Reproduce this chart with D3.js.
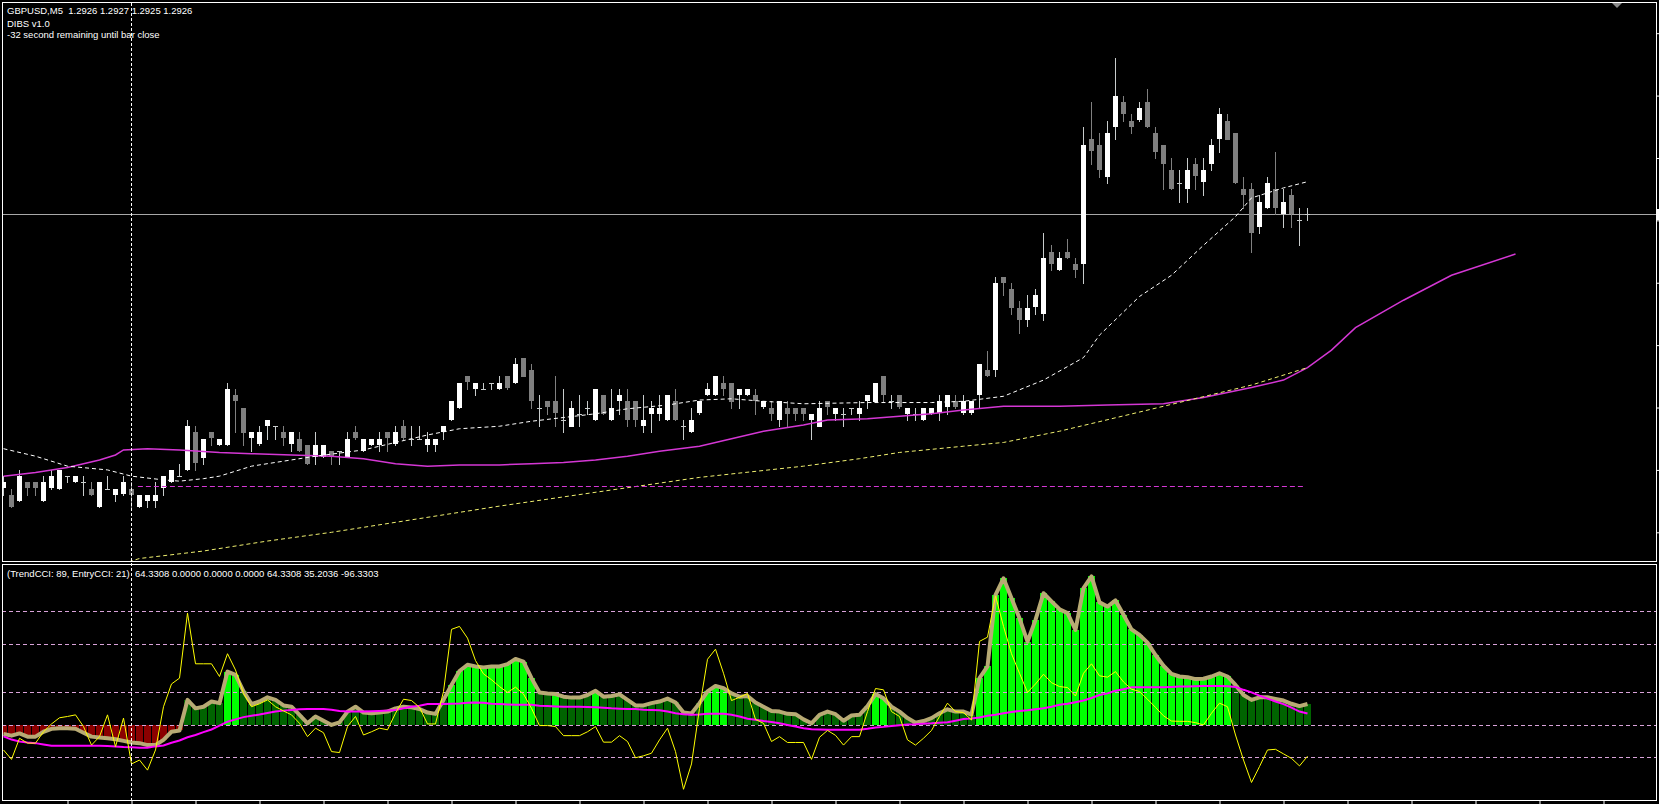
<!DOCTYPE html>
<html><head><meta charset="utf-8">
<script src="https://cdn.jsdelivr.net/npm/d3@7"></script>
<style>
html,body{margin:0;padding:0;background:#000;overflow:hidden;}
svg{display:block;}
text{font-family:"Liberation Sans",Arial,sans-serif;font-size:9.5px;fill:#fff;white-space:pre;}
</style></head><body>
<svg id="c" width="1659" height="804"></svg>
<script>
// ---------------- DATA ----------------
const headerLines = ["GBPUSD,M5  1.2926 1.2927 1.2925 1.2926", "DIBS v1.0", "-32 second remaining until bar close"];
const indicatorLabel = "(TrendCCI: 89, EntryCCI: 21)  64.3308 0.0000 0.0000 0.0000 64.3308 35.2036 -96.3303";

const barOpen = [1.29040,1.29035,1.29030,1.29045,1.29045,1.29030,1.29040,1.29040,1.29050,1.29045,1.29045,1.29040,1.29025,1.29040,1.29035,1.29035,1.29040,1.29025,1.29030,1.29030,1.29040,1.29045,1.29050,1.29055,1.29085,1.29065,1.29085,1.29075,1.29075,1.29115,1.29105,1.29080,1.29075,1.29090,1.29090,1.29085,1.29075,1.29080,1.29075,1.29065,1.29065,1.29070,1.29070,1.29065,1.29085,1.29070,1.29075,1.29075,1.29085,1.29075,1.29090,1.29080,1.29080,1.29075,1.29075,1.29085,1.29095,1.29105,1.29130,1.29120,1.29120,1.29125,1.29120,1.29130,1.29125,1.29145,1.29135,1.29105,1.29110,1.29110,1.29095,1.29090,1.29100,1.29105,1.29095,1.29115,1.29095,1.29110,1.29110,1.29110,1.29090,1.29100,1.29100,1.29095,1.29110,1.29090,1.29085,1.29100,1.29115,1.29115,1.29125,1.29125,1.29115,1.29115,1.29115,1.29105,1.29105,1.29095,1.29105,1.29105,1.29105,1.29095,1.29090,1.29110,1.29100,1.29100,1.29105,1.29100,1.29110,1.29110,1.29130,1.29110,1.29115,1.29100,1.29100,1.29095,1.29100,1.29100,1.29105,1.29110,1.29100,1.29100,1.29115,1.29135,1.29135,1.29210,1.29200,1.29185,1.29175,1.29185,1.29180,1.29230,1.29215,1.29230,1.29220,1.29220,1.29320,1.29315,1.29290,1.29330,1.29350,1.29335,1.29335,1.29350,1.29325,1.29315,1.29295,1.29285,1.29280,1.29300,1.29285,1.29300,1.29320,1.29335,1.29325,1.29280,1.29280,1.29250,1.29265,1.29280,1.29260,1.29275,1.29255,1.29260];
const barHigh = [1.29050,1.29040,1.29055,1.29045,1.29045,1.29050,1.29055,1.29055,1.29050,1.29050,1.29050,1.29045,1.29045,1.29050,1.29040,1.29050,1.29045,1.29035,1.29035,1.29045,1.29050,1.29055,1.29060,1.29095,1.29090,1.29080,1.29085,1.29080,1.29125,1.29120,1.29105,1.29085,1.29090,1.29095,1.29090,1.29090,1.29085,1.29085,1.29075,1.29085,1.29075,1.29070,1.29070,1.29085,1.29090,1.29080,1.29080,1.29085,1.29085,1.29090,1.29095,1.29090,1.29090,1.29085,1.29080,1.29090,1.29110,1.29125,1.29130,1.29125,1.29125,1.29125,1.29130,1.29130,1.29145,1.29145,1.29140,1.29115,1.29110,1.29130,1.29120,1.29110,1.29115,1.29110,1.29120,1.29115,1.29120,1.29120,1.29120,1.29110,1.29115,1.29110,1.29115,1.29115,1.29120,1.29095,1.29105,1.29110,1.29125,1.29130,1.29130,1.29125,1.29120,1.29120,1.29120,1.29110,1.29110,1.29110,1.29110,1.29105,1.29105,1.29100,1.29110,1.29110,1.29105,1.29105,1.29105,1.29110,1.29115,1.29125,1.29130,1.29115,1.29115,1.29105,1.29105,1.29105,1.29105,1.29115,1.29115,1.29115,1.29115,1.29110,1.29140,1.29150,1.29210,1.29210,1.29205,1.29190,1.29195,1.29200,1.29245,1.29235,1.29230,1.29240,1.29225,1.29330,1.29350,1.29325,1.29335,1.29385,1.29355,1.29340,1.29350,1.29360,1.29330,1.29315,1.29305,1.29295,1.29305,1.29305,1.29305,1.29320,1.29345,1.29340,1.29325,1.29290,1.29285,1.29275,1.29290,1.29310,1.29280,1.29280,1.29265,1.29265];
const barLow = [1.29035,1.29025,1.29030,1.29035,1.29035,1.29030,1.29040,1.29040,1.29045,1.29045,1.29035,1.29035,1.29025,1.29040,1.29030,1.29035,1.29025,1.29025,1.29025,1.29025,1.29035,1.29045,1.29050,1.29055,1.29055,1.29060,1.29075,1.29075,1.29075,1.29085,1.29075,1.29070,1.29075,1.29080,1.29080,1.29075,1.29070,1.29070,1.29060,1.29060,1.29065,1.29060,1.29060,1.29065,1.29080,1.29070,1.29075,1.29070,1.29070,1.29075,1.29080,1.29075,1.29080,1.29070,1.29070,1.29080,1.29095,1.29105,1.29120,1.29115,1.29120,1.29120,1.29120,1.29120,1.29125,1.29130,1.29105,1.29090,1.29100,1.29090,1.29085,1.29090,1.29090,1.29100,1.29095,1.29100,1.29095,1.29100,1.29090,1.29090,1.29085,1.29085,1.29095,1.29095,1.29095,1.29080,1.29085,1.29100,1.29115,1.29115,1.29115,1.29105,1.29105,1.29115,1.29100,1.29105,1.29095,1.29090,1.29090,1.29095,1.29095,1.29080,1.29090,1.29100,1.29095,1.29090,1.29100,1.29095,1.29105,1.29110,1.29110,1.29105,1.29105,1.29095,1.29095,1.29095,1.29100,1.29095,1.29100,1.29105,1.29100,1.29100,1.29105,1.29130,1.29130,1.29195,1.29180,1.29165,1.29170,1.29180,1.29175,1.29215,1.29215,1.29225,1.29210,1.29205,1.29300,1.29290,1.29285,1.29320,1.29335,1.29325,1.29335,1.29330,1.29305,1.29280,1.29280,1.29270,1.29270,1.29280,1.29275,1.29295,1.29310,1.29320,1.29285,1.29265,1.29230,1.29245,1.29265,1.29260,1.29250,1.29250,1.29235,1.29255];
const barClose = [1.29045,1.29025,1.29050,1.29040,1.29040,1.29045,1.29050,1.29055,1.29050,1.29050,1.29045,1.29035,1.29045,1.29040,1.29040,1.29045,1.29035,1.29035,1.29035,1.29035,1.29050,1.29055,1.29050,1.29090,1.29060,1.29080,1.29080,1.29080,1.29120,1.29110,1.29085,1.29085,1.29085,1.29095,1.29090,1.29080,1.29085,1.29070,1.29060,1.29075,1.29075,1.29065,1.29070,1.29080,1.29080,1.29080,1.29080,1.29080,1.29080,1.29085,1.29080,1.29080,1.29080,1.29080,1.29080,1.29090,1.29110,1.29125,1.29125,1.29125,1.29120,1.29125,1.29125,1.29120,1.29140,1.29130,1.29110,1.29105,1.29105,1.29100,1.29095,1.29105,1.29100,1.29105,1.29120,1.29100,1.29105,1.29115,1.29095,1.29095,1.29095,1.29105,1.29105,1.29115,1.29095,1.29090,1.29095,1.29110,1.29120,1.29130,1.29120,1.29110,1.29120,1.29120,1.29110,1.29110,1.29100,1.29110,1.29100,1.29100,1.29100,1.29100,1.29105,1.29105,1.29105,1.29100,1.29105,1.29105,1.29115,1.29125,1.29115,1.29110,1.29105,1.29105,1.29100,1.29105,1.29105,1.29110,1.29115,1.29105,1.29110,1.29110,1.29140,1.29130,1.29205,1.29205,1.29185,1.29175,1.29185,1.29195,1.29225,1.29220,1.29225,1.29225,1.29215,1.29315,1.29310,1.29295,1.29325,1.29355,1.29340,1.29330,1.29345,1.29330,1.29310,1.29300,1.29280,1.29285,1.29295,1.29290,1.29295,1.29315,1.29340,1.29320,1.29285,1.29275,1.29245,1.29270,1.29285,1.29265,1.29270,1.29260,1.29255,1.29260];

// moving-average style lines on the price window: [bar index, price]
const whiteMA = [[0,1.29072],[4,1.29066],[8,1.29058],[13,1.29055],[16,1.29050],[20,1.29047],[22,1.29046],[25,1.29048],[27,1.29050],[29,1.29054],[31,1.29058],[35,1.29062],[39,1.29066],[45,1.29071],[49,1.29077],[53,1.29083],[57,1.29088],[62,1.29090],[66,1.29094],[70,1.29097],[74,1.29100],[78,1.29104],[83,1.29107],[87,1.29111],[91,1.29112],[95,1.29110],[100,1.29108],[108,1.29109],[116,1.29109],[120,1.29110],[125,1.29114],[130,1.29127],[135,1.29145],[137,1.29163],[142,1.29194],[146,1.29211],[150,1.29235],[154,1.29258],[156,1.29273],[160,1.29281],[163,1.29286]];
const purpleMA = [[0,1.29050],[4,1.29053],[8,1.29057],[10,1.29060],[12,1.29063],[14,1.29067],[15,1.29071],[18,1.29072],[22,1.29071],[27,1.29069],[31,1.29068],[36,1.29067],[41,1.29066],[45,1.29064],[49,1.29060],[53,1.29058],[57,1.29059],[62,1.29059],[66,1.29060],[70,1.29061],[74,1.29063],[78,1.29066],[82,1.29070],[87,1.29074],[91,1.29080],[95,1.29086],[100,1.29091],[103,1.29095],[108,1.29096],[112,1.29098],[116,1.29100],[120,1.29103],[125,1.29106],[132,1.29106],[138,1.29107],[145,1.29108],[150,1.29113],[156,1.29121],[160,1.29127],[163,1.29137],[166,1.29151],[169,1.29169],[175,1.29191],[181,1.29211],[189,1.29228]];
const yellowMA = [[14,1.28978],[17,1.28984],[25,1.28990],[33,1.28998],[41,1.29005],[50,1.29014],[62,1.29026],[75,1.29038],[87,1.29049],[100,1.29058],[107,1.29064],[112,1.29069],[120,1.29074],[125,1.29077],[132,1.29086],[145,1.29106],[156,1.29123],[163,1.29137]];
const levelLine = {price: 1.29042, from: 16.8, to: 162.7};
const bidPrice = 1.2926;
const priceTicks = [1.29405,1.29355,1.29305,1.29255,1.29205,1.29155,1.29105,1.29055,1.29005];
const timeTickBars = [8,16,24,32,40,48,56,64,72,80,88,96,104,112,120,128,136,144,152,160,168,176,184,192,200];
const cursorBar = 16;

// indicator window
const trendCCI = [-28,-33,-26,-36,-36,-21,-12,-10,-10,-12,-24,-36,-39,-41,-44,-49,-54,-56,-62,-62,-46,-21,-17,77,51,56,72,67,164,154,103,64,72,85,77,60,56,31,5,26,13,0,8,41,56,38,36,38,41,51,56,54,49,38,34,77,123,166,185,180,177,180,180,187,203,195,144,100,97,95,87,84,84,92,105,87,89,94,77,60,60,67,72,
81,69,38,35,67,103,120,113,97,87,89,69,56,43,41,34,33,17,5,31,41,33,13,29,31,58,95,82,56,41,21,7,12,21,36,48,41,41,32,144,180,400,451,390,328,256,323,405,380,356,344,292,421,457,377,364,383,339,294,277,253,215,182,157,149,147,141,142,149,159,149,123,92,77,85,85,80,75,65,58,64.33];
const entryCCI = [-77,-106,-41,-56,-56,-21,3,22,26,31,-5,-62,-36,31,-67,21,-120,-108,-139,-77,56,126,144,344,188,188,188,149,219,169,97,56,65,77,56,43,31,5,-36,-10,-24,-82,-85,-5,26,-31,-21,-10,-15,36,79,75,54,3,3,103,294,303,267,198,157,139,118,100,116,95,51,-2,-2,-5,-33,-33,-33,-21,-5,-53,-53,-33,-51,-101,-95,-87,-46,
-10,-82,-198,-120,51,202,233,159,75,85,97,17,5,-51,-36,-54,-54,-54,-106,-38,-17,-32,-62,-36,-36,41,112,108,41,26,-46,-62,-41,-17,26,67,41,38,15,257,270,397,303,219,159,100,126,156,130,118,115,89,159,188,151,147,164,132,110,103,79,54,28,12,11,11,7,0,36,67,56,-31,-108,-177,-128,-77,-75,-89,-103,-126,-96.33];
const signalCCI = [-35,-45,-51,-54,-56,-60,-64,-64,-64,-64,-64,-64,-64,-65,-66,-68,-69,-70,-70,-66,-63,-55,-48,-38,-31,-22,-14,-2,10,17,24,28,32,37,41,44,46,48,49,49,49,47,43,41,41,41,42,43,44,46,51,56,59,64,64,64,65,66,68,69,68,65,64,63,62,62,62,59,58,57,56,56,56,55,54,53,51,50,49,49,47,46,45,
41,36,33,31,32,34,34,34,31,26,19,16,12,9,5,0,-5,-10,-13,-14,-15,-15,-15,-15,-15,-12,-8,-6,-3,-1,1,2,4,5,7,8,13,18,20,23,28,31,36,40,43,45,48,51,56,62,65,70,75,83,92,97,105,110,116,116,116,116,116,117,118,118,119,120,120,120,119,117,108,100,90,81,72,64,53,41,35.2];
const histColorRuns = [["r",23],["d",5],["l",2],["d",26],["l",11],["d",2],["l",1],["d",4],["l",1],["d",13],["l",3],["d",18],["l",2],["d",11],["l",32],["d",10]];
const cciLevels = [350, 250, 100, 0, -100];

// ---------------- DRAWING ----------------
const svg = d3.select("#c");
svg.append("rect").attr("width",1659).attr("height",804).attr("fill","#000");

const x = d3.scaleLinear().domain([0,200]).range([3.5,1603.5]);
const yP = d3.scaleLinear().domain([1.28982,1.29430]).range([561,2]);
const yI = d3.scaleLinear().domain([-234,495]).range([801,564]);

const defs = svg.append("defs");
defs.append("clipPath").attr("id","clipMain").append("rect").attr("x",3).attr("y",3).attr("width",1653).attr("height",558);
defs.append("clipPath").attr("id","clipInd").append("rect").attr("x",3).attr("y",565).attr("width",1653).attr("height",235);

// ---- main window ----
const gm = svg.append("g").attr("clip-path","url(#clipMain)");

// bid line
gm.append("line").attr("x1",2).attr("x2",1657).attr("y1",Math.round(yP(bidPrice))+0.5).attr("y2",Math.round(yP(bidPrice))+0.5)
  .attr("stroke","#a8a8a8").attr("stroke-width",1);

const bars = barOpen.map((o,i)=>({i,o,h:barHigh[i],l:barLow[i],c:barClose[i]}));
const bull = d => d.c >= d.o;

gm.selectAll("line.wick").data(bars).join("line").attr("class","wick")
  .attr("x1",d=>x(d.i)).attr("x2",d=>x(d.i))
  .attr("y1",d=>Math.round(yP(d.h))).attr("y2",d=>Math.round(yP(d.l))+1)
  .attr("stroke",d=>bull(d)?"#c8cccc":"#808080").attr("stroke-width",1);

gm.selectAll("rect.body").data(bars).join("rect").attr("class","body")
  .attr("shape-rendering","crispEdges")
  .attr("x",d=>x(d.i)-2.5).attr("width",5)
  .attr("y",d=>Math.round(yP(Math.max(d.o,d.c))))
  .attr("height",d=>Math.max(1,Math.round(Math.abs(yP(d.o)-yP(d.c)))))
  .attr("fill",d=> d.o===d.c ? "#c8cccc" : (bull(d)?"#ffffff":"#7f7f7f"));

const lineP = d3.line().x(d=>x(d[0])).y(d=>yP(d[1]));
gm.append("path").attr("d",lineP(purpleMA)).attr("fill","none").attr("stroke","#d437d4").attr("stroke-width",1.5);
gm.append("path").attr("d",lineP(yellowMA)).attr("fill","none").attr("stroke","#f0f070").attr("stroke-width",1).attr("stroke-dasharray","4,3");
gm.append("path").attr("d",lineP(whiteMA)).attr("fill","none").attr("stroke","#ffffff").attr("stroke-width",1).attr("stroke-dasharray","4,3");
gm.append("line").attr("x1",x(levelLine.from)).attr("x2",x(levelLine.to))
  .attr("y1",Math.round(yP(levelLine.price))+0.5).attr("y2",Math.round(yP(levelLine.price))+0.5)
  .attr("stroke","#d437d4").attr("stroke-width",1).attr("stroke-dasharray","5,3");

// right price axis ticks (labels fall outside the window)
const axR = svg.append("g").attr("transform","translate(1656.5,0)")
  .call(d3.axisRight(yP).tickValues(priceTicks).tickSize(3).tickFormat(""));
axR.select(".domain").remove();
axR.selectAll("line").attr("stroke","#fff");
svg.append("rect").attr("x",1657).attr("y",Math.round(yP(bidPrice))-5).attr("width",2).attr("height",11).attr("fill","#fff");

// shift marker
svg.append("path").attr("d","M1612,3L1622,3L1617,8Z").attr("fill","#8a8a8a");

// ---- indicator window ----
const gi = svg.append("g").attr("clip-path","url(#clipInd)");
const histColors = [];
histColorRuns.forEach(([c,n])=>{ for(let k=0;k<n;k++) histColors.push(c); });
const colMap = {r:"#8b0000", d:"#006400", l:"#00ff00"};

gi.selectAll("rect.hist").data(trendCCI).join("rect").attr("class","hist")
  .attr("shape-rendering","crispEdges")
  .attr("x",(v,i)=>x(i)-3.5).attr("width",7)
  .attr("y",v=>Math.min(yI(0),yI(v))).attr("height",v=>Math.abs(yI(v)-yI(0)))
  .attr("fill",(v,i)=>colMap[histColors[i]]);

gi.selectAll("line.lvl").data(cciLevels).join("line").attr("class","lvl")
  .attr("x1",2).attr("x2",1657)
  .attr("y1",v=>Math.round(yI(v))+0.5).attr("y2",v=>Math.round(yI(v))+0.5)
  .attr("stroke","#d8a2d8").attr("stroke-width",1).attr("stroke-dasharray","4,3");

const lineI = d3.line().x((v,i)=>x(i)).y(v=>yI(v));
gi.append("path").attr("d",lineI(trendCCI)).attr("fill","none").attr("stroke","#b8aa74").attr("stroke-width",4).attr("stroke-linejoin","round");
gi.append("path").attr("d",lineI(signalCCI)).attr("fill","none").attr("stroke","#ff00ff").attr("stroke-width",2);
gi.append("path").attr("d",lineI(entryCCI)).attr("fill","none").attr("stroke","#ffff00").attr("stroke-width",1);

// bottom time ticks
const axB = svg.append("g").attr("transform","translate(0,800.5)")
  .call(d3.axisBottom(x).tickValues(timeTickBars).tickSize(4).tickFormat(""));
axB.select(".domain").remove();
axB.selectAll("line").attr("stroke","#fff");

// frames
svg.append("rect").attr("x",2.5).attr("y",2.5).attr("width",1654).attr("height",559).attr("fill","none").attr("stroke","#fff");
svg.append("rect").attr("x",2.5).attr("y",564.5).attr("width",1654).attr("height",236).attr("fill","none").attr("stroke","#fff");

// cursor line
svg.append("line").attr("x1",x(cursorBar)).attr("x2",x(cursorBar)).attr("y1",3).attr("y2",800)
  .attr("stroke","#fff").attr("stroke-width",1).attr("stroke-dasharray","3,2");

// texts
svg.selectAll("text.hdr").data(headerLines).join("text").attr("class","hdr")
  .attr("x",7).attr("y",(d,i)=>[14,27,37.5][i]).text(d=>d);
svg.append("text").attr("x",7).attr("y",577).text(indicatorLabel);
</script>
</body></html>
